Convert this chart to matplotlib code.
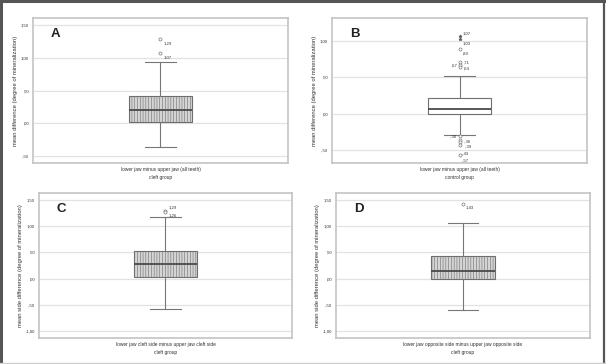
import numpy as np
import matplotlib
matplotlib.use('Agg')
import matplotlib.pyplot as plt
from matplotlib.lines import Line2D

# ==============================================================================
# DATA
# ==============================================================================

panel_letters = ['A', 'B', 'C', 'D']
x_labels = ['lower jaw minus upper jaw (all teeth)',
            'lower jaw minus upper jaw (all teeth)',
            'lower jaw cleft side minus upper jaw cleft side',
            'lower jaw opposite side minus upper jaw opposite side']
group_labels = ['cleft group', 'control group', 'cleft group', 'cleft group']
y_labels = ['mean difference (degree of mineralization)',
            'mean difference (degree of mineralization)',
            'mean side difference (degree of mineralization)',
            'mean side difference (degree of mineralization)']

# whisker low, q1, median, q3, whisker high
whisker_lo = [-0.36, -0.29, -0.57, -0.60]
q1 = [0.02, 0.00, 0.04, 0.00]
median = [0.20, 0.07, 0.28, 0.15]
q3 = [0.42, 0.22, 0.52, 0.43]
whisker_hi = [0.94, 0.52, 1.17, 1.06]

# outliers per panel
outliers_a = [1.29, 1.07]
outliers_b = [1.07, 1.03, 0.89, 0.71, 0.67, 0.64, -0.31, -0.36, -0.39, -0.43, -0.57]
outliers_c = [1.29, 1.26]
outliers_d = [1.43]
outlier_labels_a = ['1,29', '1,07']
outlier_labels_b = ['1,07', '1,03', ',89', ',71', ',67', ',64', '-,30', '-,36', '-,39', '-,43', '-,57']
outlier_labels_c = ['1,29', '1,26']
outlier_labels_d = ['1,43']
extreme_b = [True, True] + [False] * 9

yticks_top = [-0.5, 0.0, 0.5, 1.0, 1.5]
yticks_b = [-0.5, 0.0, 0.5, 1.0]
yticks_bottom = [-1.0, -0.5, 0.0, 0.5, 1.0, 1.5]

GRID = '#e2e2e2'
FRAME = '#c4c4c4'
TXT = '#333333'

plt.rcParams['font.family'] = ['Liberation Sans', 'DejaVu Sans']


def fmt_tick(v):
    '''SPSS style german decimal labels: ,50  -,50  1,00'''
    s = f'{v:.2f}'.replace('.', ',')
    s = s.replace('0,', ',', 1) if abs(v) < 1 else s
    return s


def draw_panel(ax, i, outliers, out_labels, yticks, ylim, hatched=True, extreme=None,
               label_pos=None):
    stats = [dict(whislo=whisker_lo[i], q1=q1[i], med=median[i], q3=q3[i],
                  whishi=whisker_hi[i], fliers=[])]
    bp = ax.bxp(stats, positions=[1], widths=0.25, patch_artist=True, showfliers=False,
                capwidths=0.12,
                boxprops=dict(facecolor='#d4d4d4' if hatched else 'white',
                              edgecolor='#6e6e6e', linewidth=0.8,
                              hatch='||||||' if hatched else None),
                medianprops=dict(color='#4a4a4a', linewidth=1.3),
                whiskerprops=dict(color='#777777', linewidth=0.8),
                capprops=dict(color='#777777', linewidth=0.8))
    if hatched:
        for b in bp['boxes']:
            b.set_hatch_linewidth(0.4)

    if extreme is None:
        extreme = [False] * len(outliers)
    if label_pos is None:
        label_pos = [(2, -3)] * len(outliers)
    for v, lab, ex, (dx, dy) in zip(outliers, out_labels, extreme, label_pos):
        if ex:
            ax.plot(1, v, marker='*', ms=2.5, color='#555555', mew=0.4, zorder=4)
        else:
            ax.plot(1, v, marker='o', ms=2.2, mfc='white', mec='#777777', mew=0.5, zorder=4)
        ax.annotate(lab, (1, v), xytext=(dx, dy), textcoords='offset points',
                    ha='left' if dx > 0 else 'right', va='center',
                    fontsize=3.1, color=TXT)

    ax.set_xlim(0.5, 1.5)
    ax.set_ylim(*ylim)
    ax.set_yticks(yticks)
    ax.set_yticklabels([fmt_tick(t) for t in yticks], fontsize=3.1, color=TXT)
    ax.set_xticks([1])
    ax.set_xticklabels([x_labels[i]], fontsize=3.5, color=TXT)
    ax.set_xlabel(group_labels[i], fontsize=3.5, color=TXT, labelpad=2)
    ax.set_ylabel(y_labels[i], fontsize=4.2, color=TXT, labelpad=2)
    ax.tick_params(length=0, pad=3)
    ax.yaxis.grid(True, color=GRID, linewidth=0.9)
    ax.set_axisbelow(True)
    for sp in ax.spines.values():
        sp.set_color(FRAME)
        sp.set_linewidth(1.2)
    ax.text(0.07, 0.89, panel_letters[i], transform=ax.transAxes, fontsize=9.5,
            fontweight='bold', color='#222222', ha='left', va='center')


fig = plt.figure(figsize=(6.06, 3.64), dpi=100)

ax_a = fig.add_axes([0.0545, 0.552, 0.4205, 0.3985])
ax_b = fig.add_axes([0.548, 0.552, 0.4206, 0.3985])
ax_c = fig.add_axes([0.0644, 0.0714, 0.4174, 0.3984])
ax_d = fig.add_axes([0.5545, 0.0714, 0.4191, 0.3984])

draw_panel(ax_a, 0, outliers_a, outlier_labels_a, yticks_top, (-0.61, 1.61))
draw_panel(ax_b, 1, outliers_b, outlier_labels_b, yticks_b, (-0.68, 1.32), hatched=False,
           extreme=extreme_b,
           label_pos=[(2, 2), (2, -3), (2, -3), (3, 0), (-1.5, 0), (3, -1),
                      (-2, 0), (3, -1), (4, -3.5), (2, -6), (2, -4)])
draw_panel(ax_c, 2, outliers_c, outlier_labels_c, yticks_bottom, (-1.13, 1.63),
           label_pos=[(2, 2.5), (2, -2.5)])
draw_panel(ax_d, 3, outliers_d, outlier_labels_d, yticks_bottom, (-1.13, 1.63))

# dark outer frame of the composite figure
fig.add_artist(Line2D([0.002, 0.002], [0, 1], color='#555555', lw=2.2, transform=fig.transFigure))
fig.add_artist(Line2D([0, 1], [0.997, 0.997], color='#555555', lw=2.2, transform=fig.transFigure))
fig.add_artist(Line2D([0.9965, 0.9965], [0, 1], color='#555555', lw=1.6, transform=fig.transFigure))
fig.add_artist(Line2D([0, 1], [0.003, 0.003], color='#cfcfcf', lw=1.0, transform=fig.transFigure))

fig.savefig('out.png', dpi=100)
